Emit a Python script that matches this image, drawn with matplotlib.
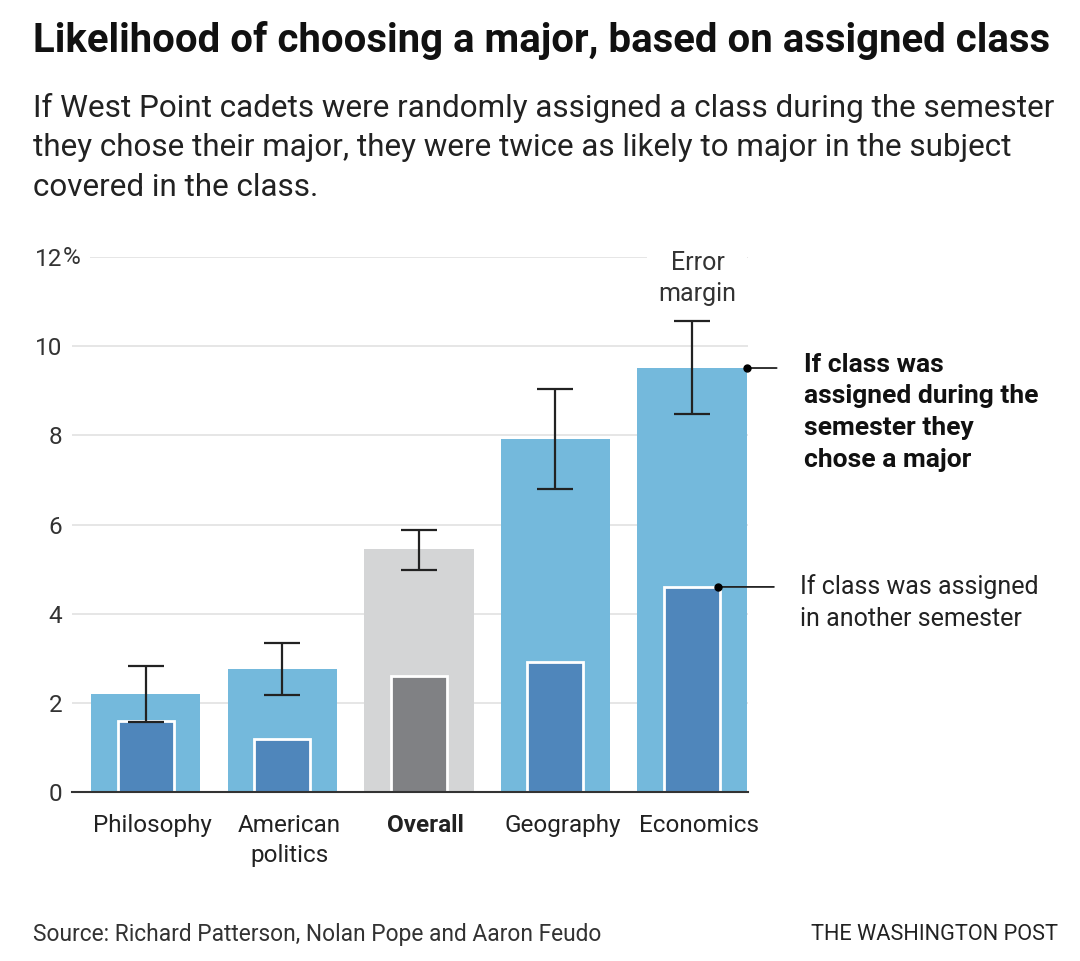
import matplotlib.pyplot as plt
from matplotlib.transforms import ScaledTranslation

# Data
categories = ['Philosophy', 'American\npolitics', 'Overall', 'Geography', 'Economics']
assigned_same = [2.2, 2.76, 5.45, 7.91, 9.51]     # class assigned during the semester they chose a major
assigned_other = [1.6, 1.2, 2.6, 2.91, 4.6]       # class assigned in another semester
err_low = [1.57, 2.17, 4.98, 6.79, 8.48]
err_high = [2.83, 3.34, 5.87, 9.04, 10.56]
yticks = [0, 2, 4, 6, 8, 10, 12]
ytick_labels = ['0', '2', '4', '6', '8', '10', '12']

light_blue = '#74b9dc'
dark_blue = '#4f86bb'
light_grey = '#d4d5d6'
dark_grey = '#808184'

plt.rcParams['font.family'] = ['Roboto', 'DejaVu Sans']

W, H = 1080, 961
fig = plt.figure(figsize=(10.8, 9.61), dpi=100)
ax = fig.add_axes([72 / W, 1 - 792 / H, (748 - 72) / W, (792 - 257) / H])

x = list(range(len(categories)))
outer_colors = [light_grey if c == 'Overall' else light_blue for c in categories]
inner_colors = [dark_grey if c == 'Overall' else dark_blue for c in categories]

ax.bar(x, assigned_same, width=0.8, color=outer_colors, zorder=2)
ax.bar(x, assigned_other, width=0.41, color=inner_colors, edgecolor='white',
       linewidth=2, zorder=3)

mid = [(lo + hi) / 2 for lo, hi in zip(err_low, err_high)]
half = [(hi - lo) / 2 for lo, hi in zip(err_low, err_high)]
ax.errorbar(x, mid, yerr=half, fmt='none', ecolor='#222222', elinewidth=1.6,
            capsize=13, capthick=1.6, zorder=4)

ax.set_xlim(-0.54, 4.41)
ax.set_ylim(0, 12)
ax.set_yticks(yticks)
ax.set_yticklabels(ytick_labels, fontsize=17.5, color='#333333')
ax.set_xticks(x)
ax.set_xticklabels(categories, fontsize=17.5, color='#222222', linespacing=1.35, va='top')
ax.get_xticklabels()[2].set_fontweight('bold')
ax.tick_params(axis='both', length=0)
ax.tick_params(axis='x', pad=16)
ax.tick_params(axis='y', pad=7)
# labels sit slightly right of the bar centres in the original
shift = ScaledTranslation(0.07, 0, fig.dpi_scale_trans)
for lbl in ax.get_xticklabels():
    lbl.set_transform(lbl.get_transform() + shift)
for s in ['top', 'right', 'left']:
    ax.spines[s].set_visible(False)
ax.spines['bottom'].set_color('#333333')
ax.spines['bottom'].set_linewidth(1.5)
ax.spines['bottom'].set_zorder(5)

# gridlines (the top one starts after the "12%" label)
for t in yticks[1:]:
    start = -0.41 if t == 12 else -0.54
    ax.hlines(t, start, 4.41, color='#e6e6e6', linewidth=1.4, zorder=0)
pct_offset = ScaledTranslation(-0.095, 0, fig.dpi_scale_trans)
ax.text(0, 12, '%', transform=ax.get_yaxis_transform() + pct_offset, fontsize=17.5,
        color='#333333', ha='left', va='center')

# Error margin label
ax.text(4.04, 11.52, 'Error\nmargin', ha='center', va='center', fontsize=18,
        color='#333333', linespacing=1.4,
        bbox=dict(facecolor='white', edgecolor='none', pad=8), zorder=6)

# Annotations on the right
ax.plot([4.4], [assigned_same[4]], 'o', color='black', markersize=5, zorder=6, clip_on=False)
ax.annotate('', xy=(4.4, assigned_same[4]), xytext=(4.64, assigned_same[4]),
            arrowprops=dict(arrowstyle='-', color='#222222', lw=1.3), annotation_clip=False)
for i, line in enumerate(['If class was', 'assigned during the', 'semester they', 'chose a major']):
    fig.text(804 / W, 1 - (365 + i * 31.5) / H, line, fontsize=19, fontweight='bold',
             color='#111111', va='center', ha='left')

ax.plot([4.19], [assigned_other[4]], 'o', color='black', markersize=5, zorder=6, clip_on=False)
ax.annotate('', xy=(4.19, assigned_other[4]), xytext=(4.62, assigned_other[4]),
            arrowprops=dict(arrowstyle='-', color='#222222', lw=1.3), annotation_clip=False)
for i, line in enumerate(['If class was assigned', 'in another semester']):
    fig.text(800 / W, 1 - (587 + i * 32) / H, line, fontsize=18,
             color='#222222', va='center', ha='left')

# Titles and footer
fig.text(33 / W, 1 - 40 / H, 'Likelihood of choosing a major, based on assigned class',
         fontsize=28.9, fontweight='bold', color='#111111', va='center', ha='left')
subtitle = ['If West Point cadets were randomly assigned a class during the semester',
            'they chose their major, they were twice as likely to major in the subject',
            'covered in the class.']
for i, line in enumerate(subtitle):
    fig.text(33 / W, 1 - (108 + i * 40) / H, line, fontsize=22.6, color='#222222',
             va='center', ha='left')
fig.text(33 / W, 1 - 934 / H, 'Source: Richard Patterson, Nolan Pope and Aaron Feudo',
         fontsize=16.4, color='#333333', va='center', ha='left')
fig.text(1058 / W, 1 - 934 / H, 'THE WASHINGTON POST',
         fontsize=15.7, color='#222222', va='center', ha='right')

plt.savefig('out.png', dpi=100)
